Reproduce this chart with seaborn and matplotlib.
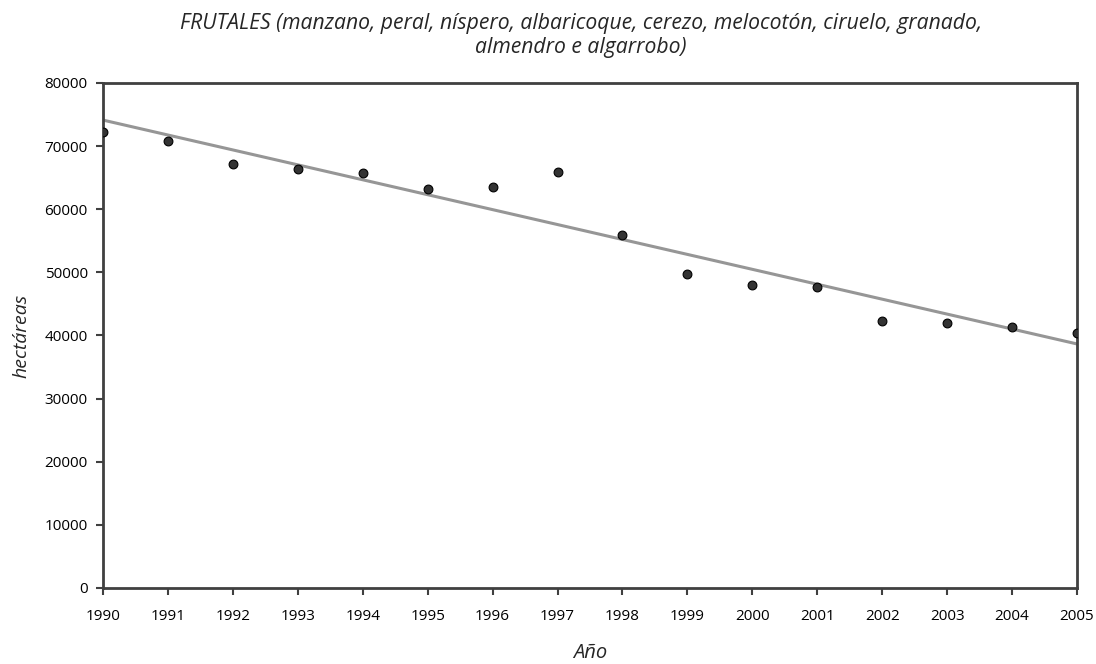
import numpy as np
import pandas as pd
import matplotlib
matplotlib.use("Agg")
import matplotlib.pyplot as plt
import seaborn as sns

# datos
anios = [1990, 1991, 1992, 1993, 1994, 1995, 1996, 1997,
         1998, 1999, 2000, 2001, 2002, 2003, 2004, 2005]
hectareas = [72170, 70840, 67140, 66350, 65770, 63170, 63540, 65920,
             55920, 49790, 47990, 47730, 42220, 42010, 41380, 40320]

df = pd.DataFrame({"anio": anios, "ha": hectareas})

sns.set_style("white")
plt.rcParams['font.family'] = ['Open Sans', 'DejaVu Sans']

fig = plt.figure(figsize=(10.96, 6.64), dpi=100)
ax = fig.add_axes([0.094, 0.1145, 0.8887, 0.7605])

sns.regplot(data=df, x="anio", y="ha", ax=ax, ci=None, truncate=True,
            scatter_kws=dict(s=40, color="#333333", edgecolor="black",
                             linewidths=0.8, alpha=1, zorder=3),
            line_kws=dict(color="#969696", lw=2.2, zorder=2))

ax.set_xlim(1990, 2005)
ax.set_ylim(0, 80000)
ax.set_xticks(anios)
ax.set_yticks(range(0, 80001, 10000))
ax.tick_params(axis="both", labelsize=11, length=5, width=1.5,
               color="#404040", direction="out", left=True, bottom=True,
               labelcolor="black")
ax.tick_params(axis="x", pad=10)
ax.tick_params(axis="y", pad=6)
for s in ax.spines.values():
    s.set_color("#404040")
    s.set_linewidth(2)

ax.set_xlabel("Año", fontsize=14.5, style="italic", labelpad=14)
ax.set_ylabel("hectáreas", fontsize=14, style="italic", labelpad=10)

fig.text(0.530, 0.98, "FRUTALES (manzano, peral, níspero, albaricoque, cerezo, melocotón, ciruelo, granado,\nalmendro e algarrobo)",
         ha="center", va="top", fontsize=15.2, style="italic", linespacing=1.15)

fig.savefig("out.png", dpi=100)
